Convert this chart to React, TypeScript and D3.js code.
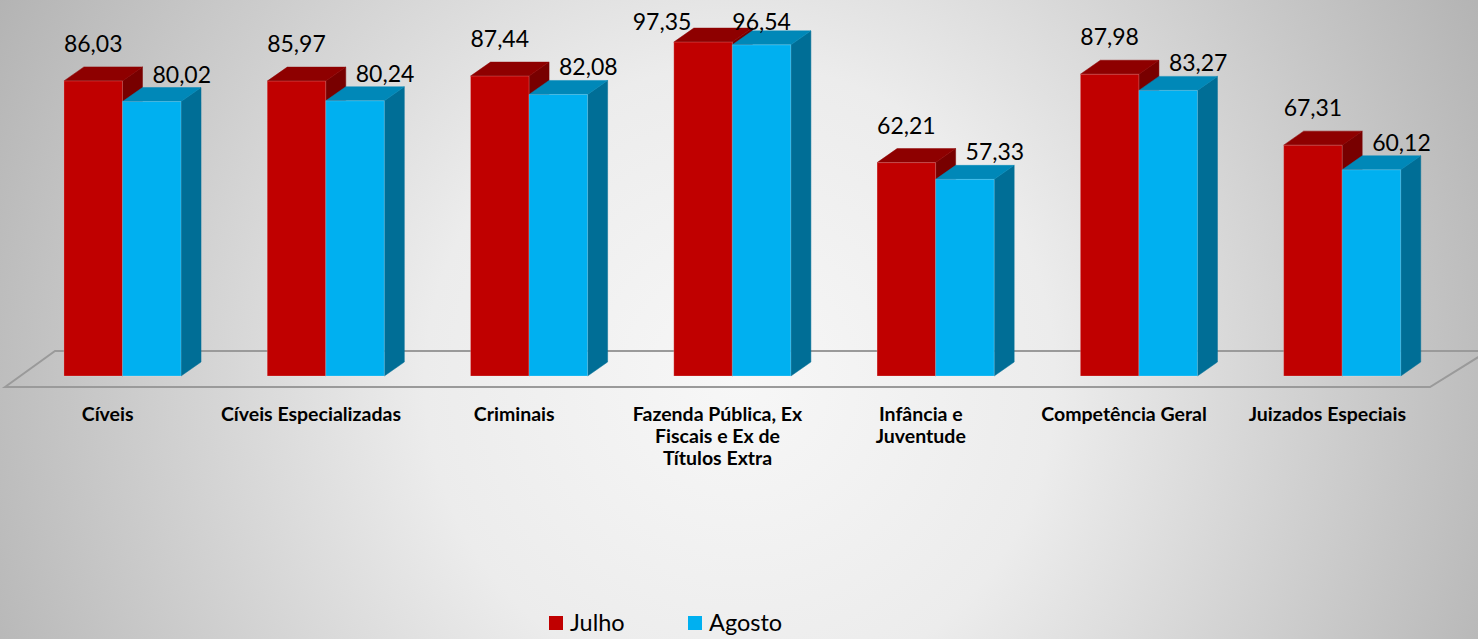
import React from "react";
import * as d3 from "d3";

const categories = [
  "Cíveis",
  "Cíveis Especializadas",
  "Criminais",
  "Fazenda Pública, Ex\nFiscais e Ex de\nTítulos Extra",
  "Infância e\nJuventude",
  "Competência Geral",
  "Juizados Especiais",
];
const julho = [86.03, 85.97, 87.44, 97.35, 62.21, 87.98, 67.31];
const agosto = [80.02, 80.24, 82.08, 96.54, 57.33, 83.27, 60.12];
const seriesNames = ["Julho", "Agosto"];

const W = 1478;
const H = 639;
const FONT = "Lato, 'Open Sans', sans-serif";

const colors = [
  { front: "#C00000", top: "#8E0000", side: "#780000" },
  { front: "#00B0F0", top: "#0088B8", side: "#006E96" },
];

const fmt = (v: number) => v.toFixed(2).replace(".", ",");

export default function App() {
  const x = d3.scaleBand<string>().domain(categories).range([6, 1429]).padding(0);
  const y = d3.scaleLinear().domain([0, 100]).range([376, 33]);
  const bw = x.bandwidth();
  const barW = bw * 0.288;
  const barOff = bw * 0.285;
  const dx = 20;
  const dy = 14;
  const floorY = 387;
  const floorDx = 50;
  const floorDy = 36;
  const [r0, r1] = x.range();
  const minBaseline = 30;

  const data = [julho, agosto];

  const bar = (cat: string, i: number, s: number) => {
    const v = data[s][i];
    const x0 = (x(cat) as number) + barOff + s * barW;
    const x1 = x0 + barW;
    const yt = y(v);
    const yb = y(0);
    const c = colors[s];
    const front = `M${x0},${yt}L${x1},${yt}L${x1},${yb}L${x0},${yb}Z`;
    const top = `M${x0},${yt}L${x0 + dx},${yt - dy}L${x1 + dx},${yt - dy}L${x1},${yt}Z`;
    const side = `M${x1},${yt}L${x1 + dx},${yt - dy}L${x1 + dx},${yb - dy}L${x1},${yb}Z`;
    let base = yt - dy - (s === 0 ? 15 : 5);
    let cx = (x0 + x1) / 2 + (s === 1 ? 30 : 0);
    if (base < minBaseline) {
      base = minBaseline;
      cx = (x0 + x1) / 2 + (s === 0 ? -41 : 0);
    }
    return (
      <g key={`${cat}-${s}`}>
        <path d={side} fill={c.side} stroke={c.side} strokeWidth={0.5} />
        <path d={top} fill={c.top} stroke={c.top} strokeWidth={0.5} />
        <path d={front} fill={c.front} stroke="rgba(255,255,255,0.25)" strokeWidth={0.8} />
        <text x={cx} y={base} textAnchor="middle" fontFamily={FONT} fontSize={23} fill="#000">
          {fmt(v)}
        </text>
      </g>
    );
  };

  const floor = `M${r0 - 1},${floorY}L${r0 - 1 + floorDx},${floorY - floorDy}L${W + 10},${floorY - floorDy}L${r1 + 1},${floorY}Z`;

  return (
    <svg width={W} height={H} style={{ position: "absolute", left: 0, top: 0, display: "block" }}>
      <defs>
        <radialGradient id="bg" gradientUnits="userSpaceOnUse" cx={740} cy={380} r={900}>
          <stop offset="0" stopColor="#f7f7f7" />
          <stop offset="0.35" stopColor="#ececec" />
          <stop offset="1" stopColor="#acacac" />
        </radialGradient>
      </defs>
      <rect x={0} y={0} width={W} height={H} fill="url(#bg)" />
      <path d={floor} fill="none" stroke="#9a9a9a" strokeWidth={2} />
      {categories.map((cat, i) => (
        <g key={cat}>
          {bar(cat, i, 0)}
          {bar(cat, i, 1)}
        </g>
      ))}
      {categories.map((cat) => {
        const lines = cat.split("\n");
        const cx = (x(cat) as number) + bw / 2;
        return (
          <text
            key={`lab-${cat}`}
            x={cx}
            y={421}
            textAnchor="middle"
            fontFamily={FONT}
            fontWeight="bold"
            fontSize={19.5}
            fill="#000"
          >
            {lines.map((l, k) => (
              <tspan key={k} x={cx} dy={k === 0 ? 0 : 22}>
                {l}
              </tspan>
            ))}
          </text>
        );
      })}
      {seriesNames.map((name, s) => {
        const lx = 549 + s * 139;
        return (
          <g key={name}>
            <rect x={lx} y={616} width={14} height={14} fill={colors[s].front} />
            <text x={lx + 21} y={631} fontFamily={FONT} fontSize={23.5} fill="#000">
              {name}
            </text>
          </g>
        );
      })}
    </svg>
  );
}
